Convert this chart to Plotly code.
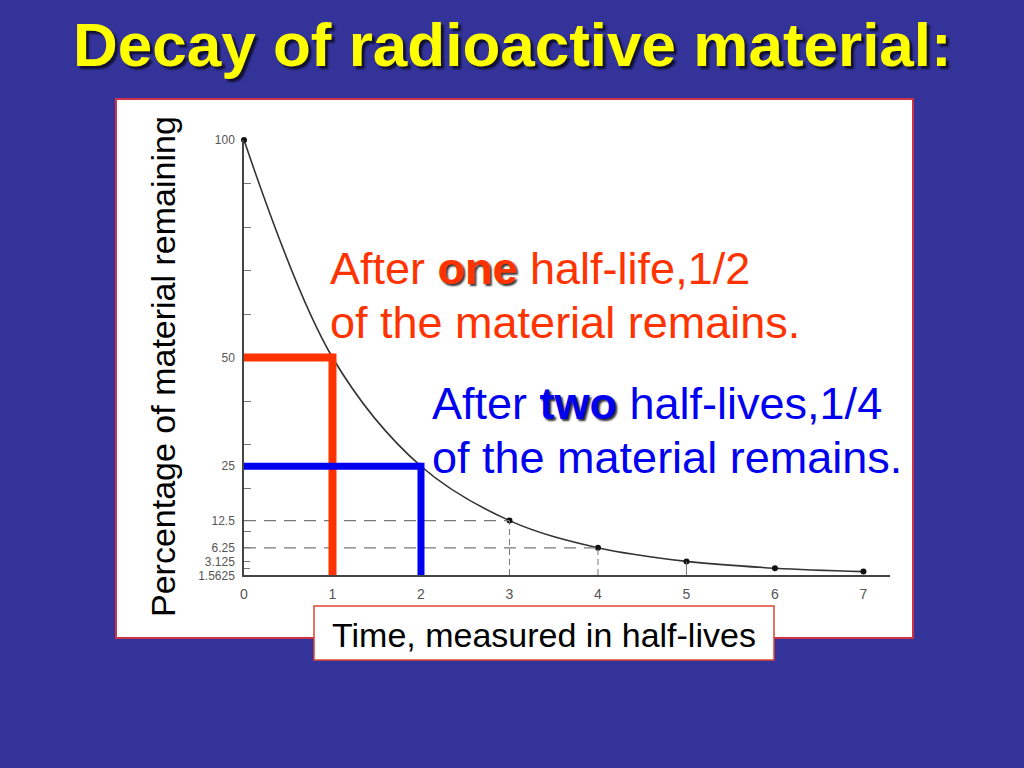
import plotly.graph_objects as go

# ---- data ----
half_lives = [0, 1, 2, 3, 4, 5, 6, 7]
percent_remaining = [100, 50, 25, 12.5, 6.25, 3.125, 1.5625, 0.78125]
xtick_vals = [0, 1, 2, 3, 4, 5, 6, 7]
xtick_text = ["0", "1", "2", "3", "4", "5", "6", "7"]
ytick_vals = [100, 50, 25, 12.5, 6.25, 3.125, 1.5625]
ytick_text = ["100", "50", "25", "12.5", "6.25", "3.125", "<br>1.5625"]
yminor_vals = [90, 80, 70, 60, 40, 30, 20, 10]

title_text = "Decay of radioactive material:"
ytitle = "Percentage of material remaining"
xtitle = "Time, measured in half-lives"
red_lines = ["After <b>one</b> half-life,1/2", "of the material remains."]
blue_lines = ["After <b>two</b> half-lives,1/4", "of the material remains."]

FONT = "Liberation Sans, Arial, Helvetica, sans-serif"
BG = "#333399"
RED = "#FF3300"
BLUE = "#0000F0"

# plot area geometry (px)
L, R, T, B = 244, 134, 140, 193
W, H = 1024, 768
PW, PH = W - L - R, H - T - B


def px(x):
    return (x - L) / PW


def py(y):
    return (H - B - y) / PH


fig = go.Figure()

# decay curve
fig.add_trace(go.Scatter(
    x=half_lives, y=percent_remaining, mode="lines+markers",
    line=dict(color="#333333", width=1.6, shape="spline", smoothing=1.0),
    marker=dict(color="#111111", size=6),
    cliponaxis=False, showlegend=False, hoverinfo="skip",
))

shapes = []
# white panel
shapes.append(dict(type="rect", xref="paper", yref="paper",
                   x0=px(116), x1=px(913), y0=py(638), y1=py(99),
                   fillcolor="white", line=dict(color="#CC3344", width=2),
                   layer="below"))
# x-title box
shapes.append(dict(type="rect", xref="paper", yref="paper",
                   x0=px(314), x1=px(774), y0=py(660), y1=py(606),
                   fillcolor="white", line=dict(color="#DD4433", width=1.5),
                   layer="below"))

# dashed guide lines for 3rd and 4th half-lives
dash = dict(color="#777777", width=1.2, dash="12px,8px")
for i in (3, 4):
    xv, yv = half_lives[i], percent_remaining[i]
    shapes.append(dict(type="line", xref="x", yref="y", x0=0, x1=xv, y0=yv, y1=yv, line=dash))
    shapes.append(dict(type="line", xref="x", yref="y", x0=xv, x1=xv, y0=0, y1=yv,
                       line=dict(color="#777777", width=1, dash="6px,4px")))
xv, yv = half_lives[5], percent_remaining[5]
shapes.append(dict(type="line", xref="x", yref="y", x0=xv, x1=xv, y0=0, y1=yv,
                   line=dict(color="#777777", width=1)))

# red: one half-life
xv, yv = half_lives[1], percent_remaining[1]
shapes.append(dict(type="line", xref="x", yref="y", x0=0, x1=xv, y0=yv, y1=yv,
                   line=dict(color=RED, width=8)))
shapes.append(dict(type="line", xref="x", yref="y", x0=xv, x1=xv, y0=yv + 0.9, y1=0,
                   line=dict(color=RED, width=8)))
# blue: two half-lives
xv, yv = half_lives[2], percent_remaining[2]
shapes.append(dict(type="line", xref="x", yref="y", x0=-0.03, x1=xv, y0=yv, y1=yv,
                   line=dict(color=BLUE, width=7)))
shapes.append(dict(type="line", xref="x", yref="y", x0=xv, x1=xv, y0=yv + 0.8, y1=0,
                   line=dict(color=BLUE, width=7)))

annotations = []
annotations.append(dict(text=title_text, xref="paper", yref="paper",
                        x=px(512), y=py(44), xanchor="center", yanchor="middle",
                        showarrow=False,
                        font=dict(family=FONT, size=62, color="#FFFF00", weight="bold",
                                  shadow="3px 3px 2px #111133")))
annotations.append(dict(text=ytitle, xref="paper", yref="paper",
                        x=px(163), y=py(367), xanchor="center", yanchor="middle",
                        textangle=-90, showarrow=False,
                        font=dict(family=FONT, size=34, color="black")))
annotations.append(dict(text=xtitle, xref="paper", yref="paper",
                        x=px(544), y=py(635), xanchor="center", yanchor="middle",
                        showarrow=False,
                        font=dict(family=FONT, size=34, color="black")))

shadow_span = '<span style="text-shadow:2px 2px 2px #333">{}</span>'
for i, (txt, yc) in enumerate(zip(red_lines, (268, 322))):
    txt = txt.replace("<b>one</b>", "<b>" + shadow_span.format("one") + "</b>")
    annotations.append(dict(text=txt, xref="paper", yref="paper",
                            x=px(328), y=py(yc), xanchor="left", yanchor="middle",
                            showarrow=False,
                            font=dict(family=FONT, size=45, color=RED)))
for i, (txt, yc) in enumerate(zip(blue_lines, (403, 457))):
    txt = txt.replace("<b>two</b>", "<b>" + shadow_span.format("two") + "</b>")
    annotations.append(dict(text=txt, xref="paper", yref="paper",
                            x=px(430), y=py(yc), xanchor="left", yanchor="middle",
                            showarrow=False,
                            font=dict(family=FONT, size=45, color=BLUE)))

fig.update_layout(
    width=W, height=H, autosize=False,
    margin=dict(l=L, r=R, t=T, b=B, pad=0),
    paper_bgcolor=BG, plot_bgcolor="white",
    shapes=shapes, annotations=annotations, showlegend=False,
    xaxis=dict(range=[0, 7.3], tickvals=xtick_vals, ticktext=xtick_text,
               showgrid=False, zeroline=False, showline=True,
               linecolor="#444444", linewidth=1.5, ticks="", ticklabelstandoff=5,
               tickfont=dict(family=FONT, size=14, color="#555555")),
    yaxis=dict(range=[0, 100], tickvals=ytick_vals, ticktext=ytick_text,
               showgrid=False, zeroline=False, showline=True,
               linecolor="#444444", linewidth=1.5, ticks="inside", ticklen=6,
               tickcolor="#777777", ticklabelstandoff=5,
               tickfont=dict(family=FONT, size=12, color="#555555"),
               minor=dict(tickvals=yminor_vals, ticks="inside", ticklen=7,
                          tickcolor="#777777")),
)

fig.write_html("out.html", config={"displayModeBar": False},
               post_script="document.body.style.margin='0';document.body.style.overflow='hidden';")
